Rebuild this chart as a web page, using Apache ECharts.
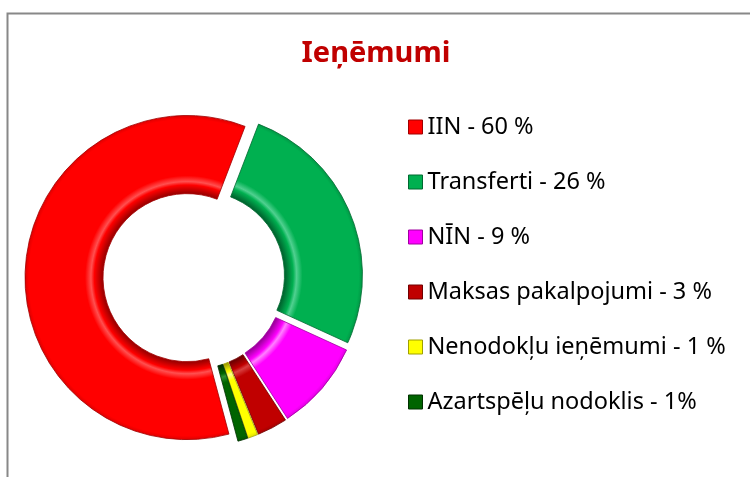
<!DOCTYPE html>
<html>
<head>
<meta charset="utf-8">
<style>
    html, body { margin: 0; padding: 0; background: #fff; }
    #ienemumi { width: 750px; height: 477px; }
</style>
</head>
<body>
<div id="ienemumi"></div>
<script src="https://cdn.jsdelivr.net/npm/echarts@6/dist/echarts.min.js"></script>
<script type="text/javascript">
    // dati
    var names = ['IIN', 'Transferti', 'NĪN', 'Maksas pakalpojumi', 'Nenodokļu ieņēmumi', 'Azartspēļu nodoklis'];
    var values = [60, 26, 9, 3, 1, 1];
    var legendLabels = ['IIN - 60 %', 'Transferti - 26 %', 'NĪN - 9 %', 'Maksas pakalpojumi - 3 %', 'Nenodokļu ieņēmumi - 1 %', 'Azartspēļu nodoklis - 1%'];

    // krāsas
    var base  = ['#FF0000', '#00B050', '#FF00FF', '#C00000', '#FFFF00', '#006400'];
    var light = ['#FF5050', '#50D090', '#FF80FF', '#D84040', '#FFFF90', '#309030'];
    var dark  = ['#A00000', '#006830', '#A000A0', '#700000', '#A0A000', '#003000'];

    var cx = 194, cy = 278;

    // bevel imitācija ar radiālo gradientu
    function ring(i) {
        return {
            type: 'radial', x: cx, y: cy, r: 170, global: true,
            colorStops: [
                {offset: 0.50, color: dark[i]},
                {offset: 0.545, color: base[i]},
                {offset: 0.565, color: light[i]},
                {offset: 0.60, color: base[i]},
                {offset: 0.93, color: base[i]},
                {offset: 1, color: dark[i]}
            ]
        };
    }

    var pieData = [];
    var legendData = [];
    for (var i = 0; i < names.length; i++) {
        pieData.push({
            name: names[i],
            value: values[i],
            selected: true,
            itemStyle: {color: ring(i), borderColor: dark[i], borderWidth: 0.8}
        });
        legendData.push({
            name: names[i],
            itemStyle: {color: base[i], borderColor: dark[i], borderWidth: 1}
        });
    }

    var myChart = echarts.init(document.getElementById('ienemumi'));
    var option = {
        animation: false,
        title: {
            text: 'Ieņēmumi',
            left: 371,
            textAlign: 'center',
            top: 34,
            textStyle: {
                color: '#C00000',
                fontFamily: 'Noto Sans',
                fontWeight: 'bold',
                fontSize: 29
            }
        },
        legend: {
            orient: 'vertical',
            left: 403,
            top: 109,
            icon: 'rect',
            itemWidth: 14,
            itemHeight: 14,
            itemGap: 29,
            selectedMode: false,
            formatter: function (name) {
                return legendLabels[names.indexOf(name)];
            },
            textStyle: {
                fontFamily: 'Noto Sans',
                fontSize: 23.5,
                lineHeight: 26,
                color: '#000'
            },
            data: legendData
        },
        series: [
            {
                name: 'Ieņēmumi',
                type: 'pie',
                center: [cx, cy],
                radius: [84, 162],
                startAngle: -75,
                selectedMode: 'multiple',
                selectedOffset: 7,
                silent: true,
                label: {show: false},
                labelLine: {show: false},
                data: pieData
            }
        ],
        graphic: [
            {
                type: 'polyline',
                shape: {points: [[7.5, 477], [7.5, 13.5], [750, 13.5]]},
                style: {stroke: '#888', lineWidth: 2, fill: null},
                silent: true
            }
        ]
    };
    myChart.setOption(option);
</script>
</body>
</html>
